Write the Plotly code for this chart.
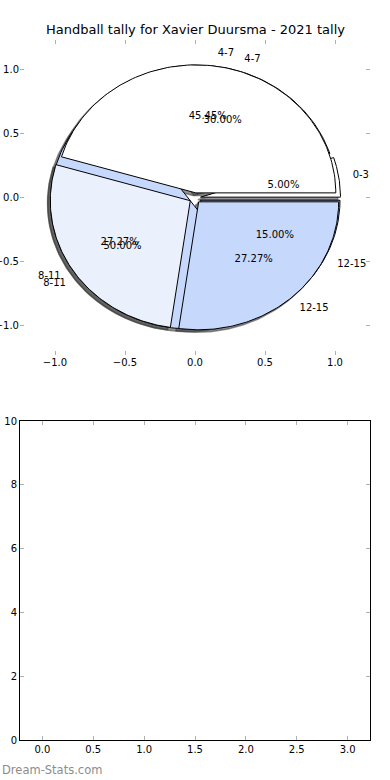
import numpy as np
import plotly.graph_objects as go

# ---- data ----
labels_a = ["0-3", "4-7", "8-11", "12-15"]
values_a = [1, 6, 10, 3]
colors_a = ["#ffffff", "#eaf1fd", "#c6d9fd", "#a9c6fb"]

labels_b = ["4-7", "8-11", "12-15"]
values_b = [5, 3, 3]
colors_b = ["#ffffff", "#eaf1fd", "#c6d9fd"]

explode = 0.04
title = "Handball tally for Xavier Duursma - 2021 tally"
FONT = "DejaVu Sans"

fig = go.Figure()


def wedges(values, ex):
    v = np.array(values, dtype=float)
    frac = v / v.sum()
    starts = np.concatenate([[0], np.cumsum(frac)[:-1]]) * 360
    ends = np.cumsum(frac) * 360
    out = []
    for s, e in zip(starts, ends):
        mid = np.deg2rad((s + e) / 2)
        ox, oy = ex * np.cos(mid), ex * np.sin(mid)
        th = np.deg2rad(np.linspace(s, e, 120))
        xs = np.concatenate([[ox], ox + np.cos(th), [ox]])
        ys = np.concatenate([[oy], oy + np.sin(th), [oy]])
        out.append((xs, ys, mid, ox, oy, (e - s) / 3.6))
    return out


wa = wedges(values_a, explode)
wb = wedges(values_b, explode)

# shadows (drawn beneath all wedges)
for w in wa + wb:
    xs, ys = w[0], w[1]
    fig.add_trace(go.Scatter(x=xs - 0.02, y=ys - 0.02, mode="lines", fill="toself",
                             fillcolor="rgba(60,60,60,0.55)",
                             line=dict(color="rgba(60,60,60,0.55)", width=1.5),
                             hoverinfo="skip", showlegend=False))
# wedges
for w, c in list(zip(wa, colors_a)) + list(zip(wb, colors_b)):
    xs, ys = w[0], w[1]
    fig.add_trace(go.Scatter(x=xs, y=ys, mode="lines", fill="toself", fillcolor=c,
                             line=dict(color="#000000", width=1),
                             hoverinfo="skip", showlegend=False))

# labels
for ws, labs in ((wa, labels_a), (wb, labels_b)):
    for w, lab in zip(ws, labs):
        mid, ox, oy, pct = w[2], w[3], w[4], w[5]
        lx, ly = ox + 1.1 * np.cos(mid), oy + 1.1 * np.sin(mid)
        fig.add_trace(go.Scatter(x=[lx], y=[ly], mode="text", text=[lab],
                                 textposition="middle right" if lx > 0 else "middle left",
                                 textfont=dict(family=FONT, size=10, color="#000"),
                                 hoverinfo="skip", showlegend=False))
        px_, py_ = ox + 0.6 * np.cos(mid), oy + 0.6 * np.sin(mid)
        fig.add_trace(go.Scatter(x=[px_], y=[py_], mode="text", text=[f"{pct:.2f}%"],
                                 textposition="middle center",
                                 textfont=dict(family=FONT, size=10, color="#000"),
                                 hoverinfo="skip", showlegend=False))

W, H = 390, 780
xd = [20 / W, 370 / W]
tick_common = dict(ticks="inside", ticklen=4, tickcolor="#b0b0b0", tickwidth=1,
                   showgrid=False, zeroline=False, automargin=False,
                   tickfont=dict(family=FONT, size=10, color="#000"))

fig.update_layout(
    width=W, height=H, margin=dict(l=0, r=0, t=0, b=0),
    paper_bgcolor="white", plot_bgcolor="white",
    font=dict(family=FONT, size=10, color="#000"),
    xaxis=dict(domain=xd, range=[-1.25, 1.25], anchor="y", tickvals=[-1, -0.5, 0, 0.5, 1],
               tickformat=".1f", showline=False, mirror="ticks", **tick_common),
    yaxis=dict(domain=[1 - 355 / H, 1 - 40 / H], range=[-1.227, 1.234], anchor="x",
               tickvals=[-1, -0.5, 0, 0.5, 1], tickformat=".1f", showline=False,
               mirror="ticks", **tick_common),
    xaxis2=dict(domain=xd, range=[-0.22, 3.22], anchor="y2", dtick=0.5, tickformat=".1f",
                showline=True, linecolor="#000", linewidth=1, mirror="ticks", **tick_common),
    yaxis2=dict(domain=[1 - 740 / H, 1 - 421 / H], range=[0, 10], anchor="x2", dtick=2,
                showline=True, linecolor="#000", linewidth=1, mirror="ticks", **tick_common),
    annotations=[
        dict(text=title, x=0.5, y=1 - 30 / H, xref="paper", yref="paper",
             xanchor="center", yanchor="middle", showarrow=False,
             font=dict(family=FONT, size=13, color="#000")),
        dict(text="Dream-Stats.com", x=0, y=1 - 770 / H, xref="paper", yref="paper",
             xanchor="left", yanchor="middle", showarrow=False,
             font=dict(family=FONT, size=11.5, color="#8c8c8c")),
    ],
)
fig.add_trace(go.Scatter(x=[None], y=[None], xaxis="x2", yaxis="y2", showlegend=False))

fig.write_html("out.html", config={"displayModeBar": False},
               post_script="document.body.style.margin='0';")
